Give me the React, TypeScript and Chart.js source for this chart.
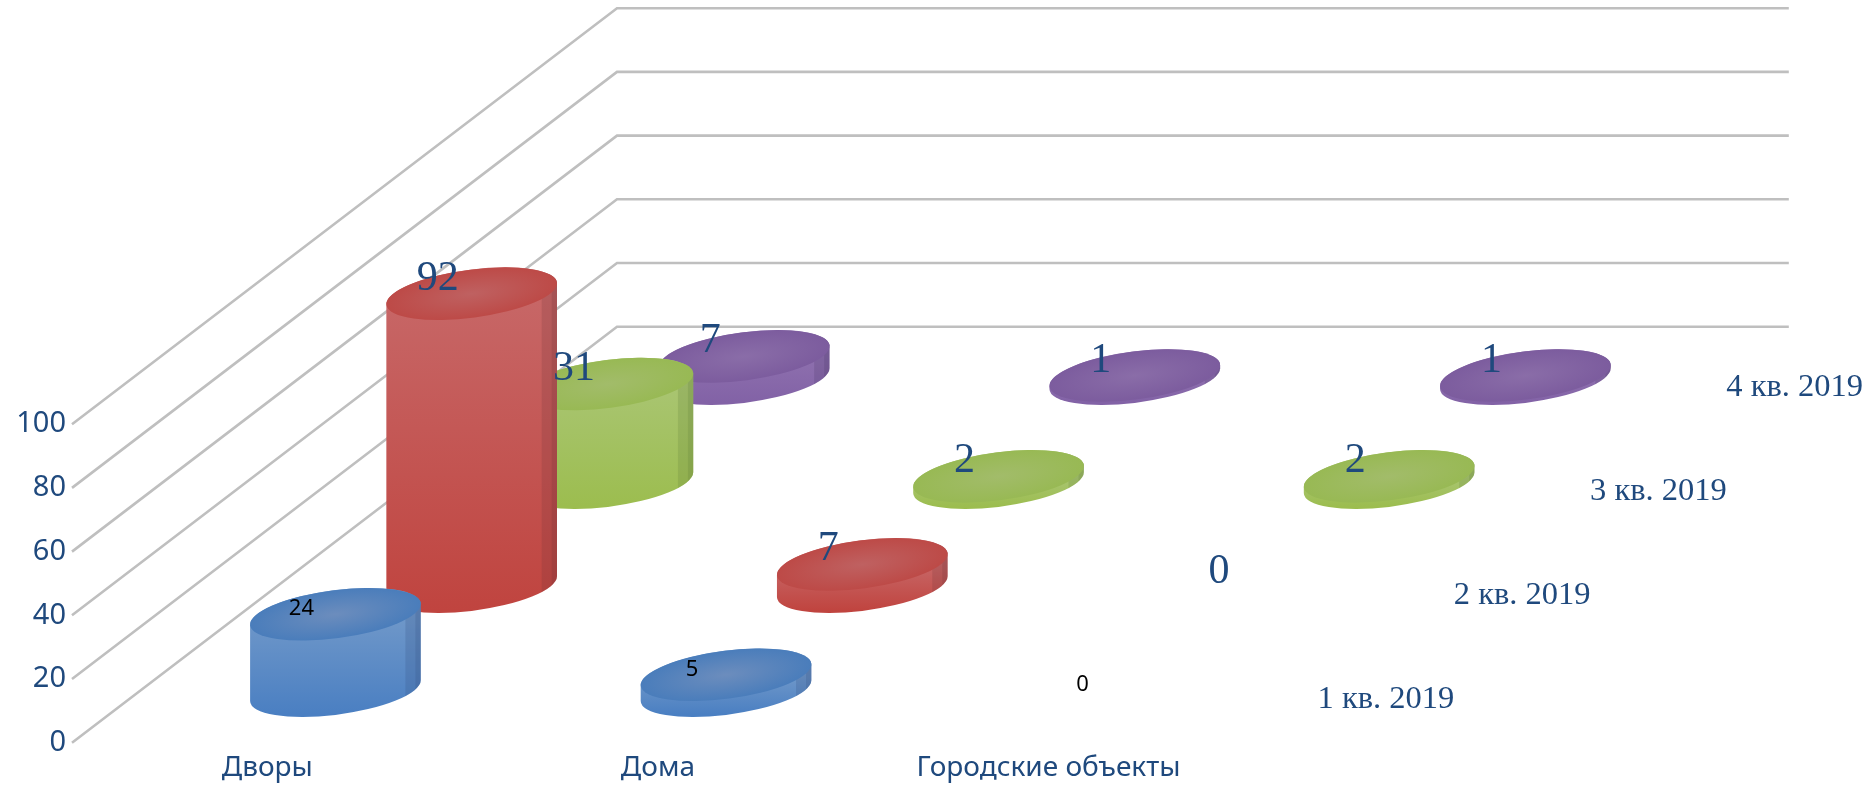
import React, { useEffect, useRef } from "react";
import { Chart, registerables } from "chart.js";

Chart.register(...registerables);

const categories = ["Дворы", "Дома", "Городские объекты"];
const seriesNames = ["1 кв. 2019", "2 кв. 2019", "3 кв. 2019", "4 кв. 2019"];
const q1 = [24, 5, 0];
const q2 = [92, 7, 0];
const q3 = [31, 2, 2];
const q4 = [7, 1, 1];
const seriesValues = [q1, q2, q3, q4];
const yTicks = [0, 20, 40, 60, 80, 100];

const W = 1871;
const H = 785;
const AXIS_LEFT = 72;
const FLOOR_Y = 742.7;
const CAT_PX = 390.6;
const UNIT_PX = 3.185;
const DEPTH_X = 136.25 / CAT_PX; // category units per series row
const DEPTH_Y = 104 / UNIT_PX; // value units per series row

const INK = "#1F497D";
const GRID = "#BFBFBF";
const SANS = "'Noto Sans'";
const SERIF = "'Liberation Serif'";

const styles = [
  { top: "#7098C9", bottom: "#4A7FC2", edge: "#4A7DBB", centre: "#6C8DBD", strip: "rgba(55,85,135,0.24)" },
  { top: "#C76767", bottom: "#C0443F", edge: "#BD4A47", centre: "#BF6161", strip: "rgba(110,50,55,0.2)" },
  { top: "#A9C572", bottom: "#9CBD4F", edge: "#98B954", centre: "#A2BC6A", strip: "rgba(90,120,50,0.2)" },
  { top: "#8E70AE", bottom: "#8262A6", edge: "#7C5C9E", centre: "#8A6DA8", strip: "rgba(70,50,100,0.2)" },
];

const ELL_A_RATIO = 86 / 85;
const ELL_B_RATIO = 24 / 85;
const ELL_ROT = (-7.5 * Math.PI) / 180;

function drawCylinder(ctx: CanvasRenderingContext2D, bar: any, st: (typeof styles)[number]) {
  const cx = bar.x;
  const half = bar.width / 2;
  const a = half * ELL_A_RATIO;
  const b = half * ELL_B_RATIO;
  const topY = bar.y;
  const baseY = bar.base;
  const t0 = Math.atan((-b * Math.sin(ELL_ROT)) / (a * Math.cos(ELL_ROT)));

  ctx.save();
  const body = new Path2D();
  body.ellipse(cx, baseY, a, b, ELL_ROT, t0, t0 + Math.PI, false);
  body.ellipse(cx, topY, a, b, ELL_ROT, t0 + Math.PI, t0 + 2 * Math.PI, false);
  body.closePath();
  const g = ctx.createLinearGradient(0, topY, 0, baseY + b);
  g.addColorStop(0, st.top);
  g.addColorStop(1, st.bottom);
  ctx.fillStyle = g;
  ctx.fill(body);
  ctx.save();
  ctx.clip(body);
  ctx.fillStyle = st.strip;
  const stripTop = topY - b - 12;
  const stripH = baseY - topY + 2 * b + 24;
  ctx.fillRect(cx + half - 15, stripTop, 17, stripH);
  ctx.fillRect(cx + half - 5, stripTop, 7, stripH);
  ctx.restore();

  ctx.translate(cx, topY);
  ctx.rotate(ELL_ROT);
  ctx.scale(1, b / a);
  const r = ctx.createRadialGradient(0, 0, 0, 0, 0, a);
  r.addColorStop(0, st.centre);
  r.addColorStop(1, st.edge);
  ctx.fillStyle = r;
  ctx.beginPath();
  ctx.arc(0, 0, a, 0, 2 * Math.PI);
  ctx.fill();
  ctx.restore();
}

const cylinderPlugin = {
  id: "cylinders",
  afterDatasetsDraw(chart: any) {
    const ctx: CanvasRenderingContext2D = chart.ctx;
    const x = chart.scales.x;
    const y = chart.scales.y;
    // back row first, so nearer cylinders cover farther ones
    for (let s = seriesValues.length - 1; s >= 0; s--) {
      const meta = chart.getDatasetMeta(s);
      meta.data.forEach((bar: any, i: number) => {
        if (seriesValues[s][i] > 0) drawCylinder(ctx, bar, styles[s]);
      });
    }
    ctx.save();
    ctx.textAlign = "center";
    ctx.textBaseline = "middle";
    for (let s = seriesValues.length - 1; s >= 0; s--) {
      const meta = chart.getDatasetMeta(s);
      meta.data.forEach((bar: any, i: number) => {
        const front = s === 0;
        ctx.font = front ? `22px ${SANS}` : `42px ${SERIF}`;
        ctx.fillStyle = front ? "#000000" : INK;
        ctx.fillText(String(seriesValues[s][i]), bar.x - 34, bar.y + (front ? -5.5 : -15));
      });
    }
    ctx.font = `32.5px ${SERIF}`;
    ctx.fillStyle = INK;
    seriesNames.forEach((name, s) => {
      const px = x.getPixelForValue(categories.length + (s + 0.5) * DEPTH_X) + 74;
      const py = y.getPixelForValue((s + 0.5) * DEPTH_Y) + 9;
      ctx.fillText(name, px, py);
    });
    ctx.restore();
  },
};

export default function App() {
  const ref = useRef<HTMLCanvasElement>(null);

  useEffect(() => {
    document.body.style.margin = "0";
    const depth = seriesValues.length;
    const bars = seriesValues.map((vals, s) => ({
      type: "bar" as const,
      label: seriesNames[s],
      order: 1,
      grouped: false,
      barThickness: 170,
      backgroundColor: "rgba(0,0,0,0)",
      borderWidth: 0,
      data: vals.map((v, i) => {
        const floor = (s + 0.5) * DEPTH_Y;
        return { x: i + 0.5 + (s + 0.5) * DEPTH_X, y: [floor, floor + v] };
      }),
    }));
    const wires = yTicks.map((v) => ({
      type: "line" as const,
      label: `grid ${v}`,
      order: 2,
      borderColor: GRID,
      borderWidth: 2.6,
      pointRadius: 0,
      tension: 0,
      fill: false,
      clip: false,
      data: [
        { x: 0, y: v },
        { x: depth * DEPTH_X, y: v + depth * DEPTH_Y },
        { x: categories.length + depth * DEPTH_X, y: v + depth * DEPTH_Y },
      ],
    }));

    const chart = new Chart(ref.current!, {
      type: "bar",
      data: { datasets: [...bars, ...wires] as any },
      plugins: [cylinderPlugin],
      options: {
        animation: false,
        responsive: false,
        devicePixelRatio: 1,
        layout: { padding: 0 },
        plugins: { legend: { display: false }, tooltip: { enabled: false }, title: { display: false } },
        scales: {
          x: {
            type: "linear",
            offset: false,
            min: 0,
            max: (W - AXIS_LEFT) / CAT_PX,
            grid: { display: false, drawTicks: false },
            border: { display: false },
            afterBuildTicks: (axis: any) => {
              axis.ticks = categories.map((_, i) => ({ value: i + 0.5 }));
            },
            afterFit: (axis: any) => {
              axis.height = H - FLOOR_Y;
              axis.paddingLeft = 0;
              axis.paddingRight = 0;
            },
            ticks: {
              autoSkip: false,
              maxRotation: 0,
              minRotation: 0,
              padding: 9,
              color: INK,
              font: { family: "Noto Sans", size: 28 },
              callback: (v: any) => categories[Math.floor(Number(v))],
            },
          },
          y: {
            type: "linear",
            min: 0,
            max: FLOOR_Y / UNIT_PX,
            grid: { display: false, drawTicks: false },
            border: { display: false },
            afterBuildTicks: (axis: any) => {
              axis.ticks = yTicks.map((value) => ({ value }));
            },
            afterFit: (axis: any) => {
              axis.width = AXIS_LEFT;
              axis.paddingTop = 0;
              axis.paddingBottom = 0;
            },
            ticks: {
              padding: 6,
              color: INK,
              font: { family: "Noto Sans", size: 29 },
            },
          },
        },
      } as any,
    });
    return () => chart.destroy();
  }, []);

  return (
    <canvas
      ref={ref}
      width={W}
      height={H}
      style={{ display: "block", position: "absolute", left: 0, top: 0, width: W, height: H }}
    />
  );
}
